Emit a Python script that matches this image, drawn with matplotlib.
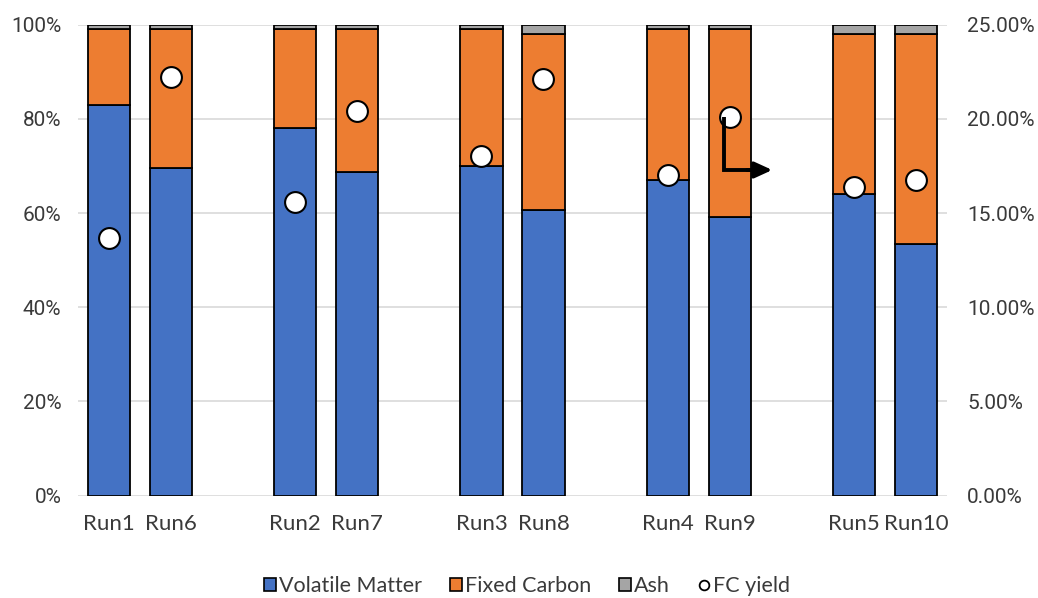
import matplotlib
matplotlib.use("Agg")
import matplotlib.pyplot as plt
from matplotlib.patches import Patch
from matplotlib.lines import Line2D
from matplotlib.ticker import FuncFormatter, MultipleLocator

plt.rcParams['font.family'] = ['Lato', 'DejaVu Sans']
NUM_FONT = ['Roboto', 'DejaVu Sans']

# Runs in display order; None marks the empty slot between pairs
runs = ["Run1", "Run6", None, "Run2", "Run7", None, "Run3", "Run8", None,
        "Run4", "Run9", None, "Run5", "Run10"]
volatile_matter = [83.0, 69.6, 78.0, 68.7, 70.0, 60.6, 67.0, 59.2, 64.0, 53.5]
fixed_carbon = [16.0, 29.4, 21.0, 30.3, 29.0, 37.4, 32.0, 39.8, 34.0, 44.5]
ash = [1.0, 1.0, 1.0, 1.0, 1.0, 2.0, 1.0, 1.0, 2.0, 2.0]
fc_yield = [13.68, 22.24, 15.58, 20.42, 18.05, 22.10, 17.02, 20.12, 16.37, 16.76]

c_vm, c_fc, c_ash = "#4472C4", "#ED7D31", "#A5A5A5"
text_color = "#3A3A3A"

fig = plt.figure(figsize=(10.38, 5.98), dpi=100)
ax = fig.add_axes([0.0751, 0.1711, 0.8372, 0.7876])

pos = [i for i, r in enumerate(runs) if r is not None]
width = 0.68
edge = dict(edgecolor="black", linewidth=1.3, width=width, zorder=3)
ax.bar(pos, volatile_matter, color=c_vm, **edge)
ax.bar(pos, fixed_carbon, bottom=volatile_matter, color=c_fc, **edge)
bottoms = [v + f for v, f in zip(volatile_matter, fixed_carbon)]
ax.bar(pos, ash, bottom=bottoms, color=c_ash, **edge)

ax.set_xlim(-0.5, len(runs) - 0.5)
ax.set_ylim(0, 100)
ax.yaxis.set_major_locator(MultipleLocator(20))
ax.yaxis.set_major_formatter(FuncFormatter(lambda v, p: f"{v:.0f}%"))
ax.set_xticks(pos)
ax.set_xticklabels([r for r in runs if r is not None],
                   fontsize=16, color=text_color)
ax.grid(axis="y", color="#D9D9D9", linewidth=1.2, zorder=0)
ax.set_axisbelow(True)
for s in ax.spines.values():
    s.set_visible(False)
ax.tick_params(axis="both", length=0)
ax.tick_params(axis="x", pad=13)
ax.tick_params(axis="y", pad=12)
for lbl in ax.get_yticklabels():
    lbl.set_fontfamily(NUM_FONT)
    lbl.set_fontsize(15)
    lbl.set_color(text_color)

ax2 = ax.twinx()
ax2.set_ylim(0, 25)
ax2.yaxis.set_major_locator(MultipleLocator(5))
ax2.yaxis.set_major_formatter(FuncFormatter(lambda v, p: f"{v:.2f}%"))
for s in ax2.spines.values():
    s.set_visible(False)
ax2.tick_params(axis="y", length=0, pad=14.5)
for lbl in ax2.get_yticklabels():
    lbl.set_fontfamily(NUM_FONT)
    lbl.set_fontsize(15)
    lbl.set_color(text_color)
ax2.plot(pos, fc_yield, linestyle="none", marker="o", markersize=15,
         markerfacecolor="white", markeredgecolor="black",
         markeredgewidth=1.5, zorder=5)

# L-shaped pointer from the Run9 yield marker towards the right axis
ax2.plot([0.743, 0.743, 0.775], [0.805, 0.6915, 0.6915], color="black",
         linewidth=2.8, transform=ax2.transAxes, zorder=6,
         solid_joinstyle="miter", solid_capstyle="butt")
ax2.annotate("", xy=(0.799, 0.6915), xytext=(0.770, 0.6915),
             xycoords="axes fraction", textcoords="axes fraction",
             arrowprops=dict(arrowstyle="-|>,head_length=1.05,head_width=0.48",
                             color="black", lw=2.8, shrinkA=0, shrinkB=0),
             zorder=6)

handles = [
    Patch(facecolor=c_vm, edgecolor="black", linewidth=1.2, label="Volatile Matter"),
    Patch(facecolor=c_fc, edgecolor="black", linewidth=1.2, label="Fixed Carbon"),
    Patch(facecolor=c_ash, edgecolor="black", linewidth=1.2, label="Ash"),
    Line2D([], [], linestyle="none", marker="o", markersize=7,
           markerfacecolor="white", markeredgecolor="black",
           markeredgewidth=1.3, label="FC yield"),
]
leg = fig.legend(handles=handles, loc="center",
                 bbox_to_anchor=(527 / 1038, 1 - 586 / 598),
                 ncol=4, frameon=False, handlelength=0.55,
                 handleheight=0.55, handletextpad=0.15, columnspacing=1.3,
                 labelcolor=text_color, prop=dict(size=15.5))

fig.savefig("out.png", dpi=100)
